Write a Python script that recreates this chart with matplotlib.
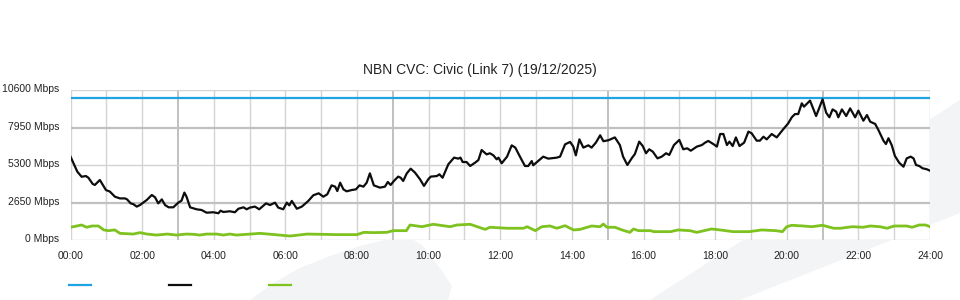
import matplotlib
matplotlib.use("Agg")
import matplotlib.pyplot as plt
import matplotlib.transforms as mtransforms
from matplotlib.patches import Polygon
from matplotlib.lines import Line2D

plt.rcParams['font.family'] = ['Liberation Sans', 'DejaVu Sans']

title = "NBN CVC: Civic (Link 7) (19/12/2025)"
capacity = 10000  # Mbps (blue line)

y_ticks = [0, 2650, 5300, 7950, 10600]
y_labels = ["0 Mbps", "2650 Mbps", "5300 Mbps", "7950 Mbps", "10600 Mbps"]
x_ticks = list(range(0, 25, 2))
x_labels = ["%02d:00" % h for h in x_ticks]

# Black series (hours, Mbps)
black_t = [0.0, 0.19, 0.31, 0.43, 0.5, 0.62, 0.68, 0.82, 0.99, 1.1, 1.24, 1.38, 1.52, 1.58,
           1.68, 1.75, 1.85, 1.94, 2.13, 2.27, 2.36, 2.45, 2.55, 2.64, 2.74, 2.87, 3.01,
           3.1, 3.18, 3.24, 3.34, 3.52, 3.66, 3.8, 3.99, 4.13, 4.19, 4.27, 4.45, 4.59,
           4.69, 4.83, 4.92, 5.01, 5.15, 5.27, 5.46, 5.57, 5.71, 5.8, 5.94, 6.04, 6.11,
           6.18, 6.32, 6.46, 6.64, 6.78, 6.93, 7.06, 7.17, 7.29, 7.39, 7.45, 7.53, 7.62,
           7.71, 7.85, 7.97, 8.07, 8.18, 8.27, 8.36, 8.47, 8.64, 8.78, 8.86, 8.94, 9.03,
           9.15, 9.22, 9.29, 9.39, 9.5, 9.62, 9.76, 9.87, 9.99, 10.06, 10.23, 10.3, 10.39,
           10.55, 10.71, 10.83, 10.89, 10.95, 11.06, 11.16, 11.3, 11.39, 11.48, 11.62,
           11.71, 11.81, 11.9, 11.95, 12.04, 12.19, 12.32, 12.42, 12.55, 12.69, 12.78,
           12.88, 12.92, 13.06, 13.2, 13.34, 13.58, 13.67, 13.81, 13.95, 14.04, 14.11,
           14.21, 14.32, 14.46, 14.55, 14.67, 14.79, 14.88, 15.02, 15.2, 15.34, 15.43,
           15.55, 15.67, 15.76, 15.88, 15.98, 16.07, 16.16, 16.26, 16.39, 16.51, 16.63,
           16.72, 16.85, 17.0, 17.11, 17.22, 17.32, 17.49, 17.63, 17.72, 17.81, 17.95,
           18.05, 18.14, 18.23, 18.33, 18.4, 18.49, 18.58, 18.68, 18.81, 18.93, 19.02,
           19.16, 19.25, 19.35, 19.44, 19.58, 19.72, 19.9, 20.04, 20.14, 20.23, 20.32,
           20.42, 20.48, 20.65, 20.82, 21.0, 21.1, 21.19, 21.28, 21.38, 21.44, 21.54,
           21.66, 21.77, 21.91, 22.0, 22.14, 22.24, 22.33, 22.47, 22.56, 22.7, 22.77,
           22.84, 22.93, 23.02, 23.14, 23.26, 23.35, 23.46, 23.54, 23.61, 23.7, 23.79,
           23.91, 24.0]
black_v = [5890, 4830, 4470, 4520, 4400, 3960, 3890, 4240, 3530, 3420, 3060, 2940, 2940, 2870,
           2590, 2540, 2360, 2470, 2830, 3180, 3020, 2590, 2870, 2470, 2310, 2310, 2640,
           2780, 3350, 3060, 2310, 2170, 2120, 1930, 1960, 1890, 2070, 1980, 2030, 1960,
           2210, 2310, 2170, 2290, 2360, 2170, 2590, 2470, 2640, 2290, 2170, 2640, 2450,
           2760, 2210, 2360, 2760, 3160, 3300, 3060, 3230, 3860, 3770, 3460, 4050, 3580,
           3440, 3530, 3580, 3860, 3770, 4050, 4710, 3860, 3700, 3770, 4100, 3890, 4170,
           4480, 4400, 4170, 4710, 5040, 4760, 4290, 3820, 4290, 4480, 4520, 4640, 4400,
           5350, 5820, 5750, 5820, 5510, 5510, 5230, 5470, 5650, 6360, 6050, 6130, 5980,
           5700, 5820, 5420, 5890, 6690, 6530, 5890, 5230, 5230, 5580, 5280, 5580, 5890,
           5750, 5820, 5890, 6760, 6930, 6600, 5980, 7110, 6530, 6690, 6530, 6880, 7400,
           6980, 7050, 7250, 6710, 5890, 5300, 5770, 6080, 6950, 6640, 6130, 6410, 6240,
           5770, 5890, 6130, 6010, 6710, 7070, 6410, 6480, 6310, 6600, 6710, 6880, 7000,
           6780, 6600, 7490, 7490, 6710, 6950, 6640, 7250, 6640, 6880, 7660, 7540, 7020,
           7020, 7300, 7110, 7490, 7250, 7820, 8240, 8670, 8900, 8900, 9660, 9420, 9850,
           8760, 9940, 9000, 8670, 9230, 9070, 8670, 9230, 8760, 9300, 8670, 9140, 8430,
           8830, 8360, 8200, 7770, 7020, 6780, 7190, 6710, 5940, 5460, 5180, 5770, 5890,
           5770, 5300, 5230, 5070, 5000, 4900]

# Green series (hours, Mbps)
green_t = [0.0, 0.31, 0.45, 0.6, 0.78, 0.93, 1.06, 1.24, 1.38, 1.75, 1.94, 2.13, 2.4, 2.7,
           2.96, 3.24, 3.45, 3.6, 3.8, 4.08, 4.27, 4.45, 4.64, 4.92, 5.29, 5.7, 6.13, 6.61,
           7.45, 8.0, 8.19, 8.46, 8.83, 9.01, 9.38, 9.48, 9.81, 10.13, 10.6, 10.79, 11.16,
           11.58, 11.71, 12.19, 12.65, 12.75, 12.98, 13.16, 13.39, 13.58, 13.81, 14.05,
           14.23, 14.55, 14.79, 14.88, 14.98, 15.2, 15.4, 15.62, 15.72, 15.86, 16.2, 16.29,
           16.76, 16.96, 17.3, 17.49, 17.78, 17.9, 18.14, 18.5, 18.95, 19.3, 19.7, 19.88,
           20.0, 20.14, 20.46, 20.7, 21.0, 21.31, 21.5, 21.83, 22.13, 22.33, 22.6, 22.8,
           23.0, 23.35, 23.5, 23.7, 23.88, 24.0]
green_v = [900, 1060, 900, 990, 990, 710, 660, 710, 470, 420, 520, 420, 350, 420,
           350, 420, 400, 350, 420, 420, 350, 420, 350, 400, 470, 380, 280, 420,
           380, 380, 540, 520, 540, 660, 660, 1060, 940, 1110, 940, 1060, 1110,
           750, 900, 830, 830, 940, 660, 940, 990, 830, 1010, 710,
           750, 990, 940, 1130, 900, 900, 710, 540, 780, 660, 660, 590,
           590, 710, 660, 540, 710, 780, 710, 590, 590, 710, 660, 590,
           940, 1040, 990, 940, 1040, 830, 830, 940, 900, 990, 940, 830,
           990, 990, 900, 1060, 1060, 940]

BLUE = "#1ea4e3"
BLACK = "#0d0d0d"
GREEN = "#7dc21e"

W, H = 960, 300
fig = plt.figure(figsize=(W / 100, H / 100), dpi=100)
fig.patch.set_facecolor("white")

# faint watermark shapes (figure pixel coords, y from top)
def px(pts):
    return [(x / W, 1 - y / H) for x, y in pts]

wm1 = [(250, 300), (275, 282), (300, 268), (330, 256), (360, 246), (385, 240), (400, 238),
       (412, 239), (422, 245), (440, 268), (452, 286), (448, 300)]
wm2 = [(650, 300), (960, 100), (960, 213), (740, 300)]
for poly in (wm1, wm2):
    fig.patches.append(Polygon(px(poly), closed=True, transform=fig.transFigure,
                               facecolor="#f3f4f6", edgecolor="none", zorder=0))

L, R, T, B = 70.5, 930, 90, 240
ax = fig.add_axes([L / W, 1 - B / H, (R - L) / W, (B - T) / H])
ax.set_facecolor("white")
ax.set_zorder(1)
ax.set_xlim(0, 24)
ax.set_ylim(0, 10600)

for h in range(0, 25):
    if h in (3, 9, 15, 21):
        ax.axvline(h, color="#c0c0c0", lw=1.4, zorder=1)
    else:
        ax.axvline(h, color="#d3d3d3", lw=1.0, zorder=1)
for v in y_ticks:
    if v in (2650, 7950):
        ax.axhline(v, color="#c0c0c0", lw=1.6, zorder=1)
    else:
        ax.axhline(v, color="#d3d3d3", lw=1.0, zorder=1)

ax.axhline(capacity, color=BLUE, lw=1.6, zorder=3)
ax.plot(green_t, green_v, color=GREEN, lw=2.0, zorder=3, solid_joinstyle="round")
ax.plot(black_t, black_v, color=BLACK, lw=1.6, zorder=4, solid_joinstyle="round")

for s in ax.spines.values():
    s.set_visible(False)
ax.set_xticks(x_ticks)
ax.set_xticklabels(x_labels)
ax.set_yticks(y_ticks)
ax.set_yticklabels(y_labels)
ax.tick_params(length=0, labelsize=7.5, colors="#222222")
ax.tick_params(axis="y", pad=8)
ax.tick_params(axis="x", pad=8)
shift = mtransforms.ScaledTranslation(0, 2 / 100, fig.dpi_scale_trans)
for lbl in ax.get_yticklabels():
    lbl.set_transform(lbl.get_transform() + shift)

fig.text(0.5, 1 - 70 / H, title, ha="center", va="center", fontsize=10, color="#222222")

# legend swatches
for x0, c in ((69, BLUE), (169, BLACK), (269, GREEN)):
    fig.lines.append(Line2D([x0 / W, (x0 + 22) / W], [1 - 285 / H, 1 - 285 / H],
                            transform=fig.transFigure, color=c, lw=1.6))

fig.savefig("out.png", dpi=100, facecolor="white")
